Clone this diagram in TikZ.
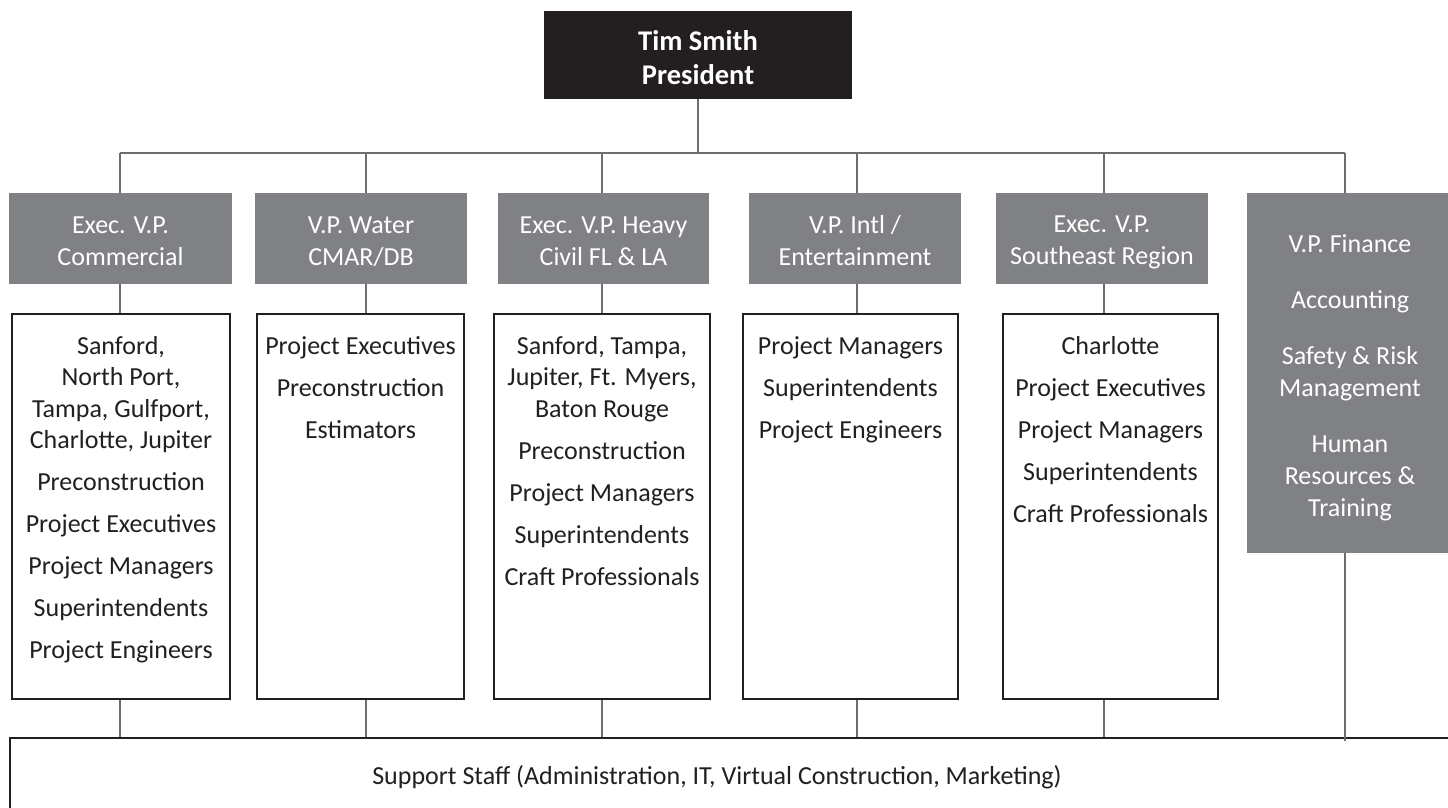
\documentclass[tikz,border=0pt]{standalone}
\usepackage{fontspec}
\setmainfont{Carlito}
\definecolor{hdrgray}{HTML}{808184}
\definecolor{ink}{HTML}{231F20}
\definecolor{linegray}{HTML}{6D6E71}
\newcommand\hdtop{\rule{0pt}{25pt}}
\newcommand\hdbot{\rule[-4pt]{0pt}{4pt}}
\newcommand\prtop{\rule{0pt}{25pt}}
\begin{document}
\begin{tikzpicture}[x=1pt,y=-1pt,
  pres/.style={fill=ink, text=white, inner sep=0pt, font=\bfseries\fontsize{28.5}{34}\selectfont, align=center},
  hdr/.style={fill=hdrgray, text=white, inner sep=0pt, font=\fontsize{26}{32}\selectfont, align=center},
  unitbox/.style={draw=ink, line width=2.2pt, fill=white, inner sep=0pt},
  unittext/.style={text=ink, inner sep=0pt, font=\fontsize{26}{31.5}\selectfont, align=center, anchor=north},
  link/.style={draw=linegray, line width=1.3pt},
]
\useasboundingbox (0,0) rectangle (1448,808);
\clip (0,0) rectangle (1448,808);

% president
\node[pres, minimum width=308pt, minimum height=88pt] (pres) at (698,55) {\prtop Tim Smith\\President};

% vertical line positions
\coordinate (v1) at (120,153);
\coordinate (v2) at (366,153);
\coordinate (v3) at (602,153);
\coordinate (v4) at (857,153);
\coordinate (v5) at (1104,153);
\coordinate (v6) at (1345,153);

% headers
\node[hdr, minimum width=223pt, minimum height=91pt] (h1) at (120.5,238.5) {\hdtop Exec. V.P.\\Commercial\hdbot};
\node[hdr, minimum width=212pt, minimum height=91pt] (h2) at (361,238.5) {\hdtop V.P. Water\\CMAR/DB\hdbot};
\node[hdr, minimum width=211pt, minimum height=91pt] (h3) at (603.5,238.5) {\hdtop Exec. V.P. Heavy\\Civil FL \& LA\hdbot};
\node[hdr, minimum width=212pt, minimum height=91pt] (h4) at (855,238.5) {\hdtop V.P. Intl /\\Entertainment\hdbot};
\node[hdr, minimum width=212pt, minimum height=91pt] (h5) at (1102,238.5) {\hdtop Exec. V.P.\\Southeast Region\hdbot};
\node[hdr, minimum width=205pt, minimum height=360pt] (fin) at (1349.5,373) {};
\node[hdr, fill=none, anchor=north] (fintext) at (1350,234) {V.P. Finance\\[24pt]Accounting\\[24pt]Safety \& Risk\\Management\\[24pt]Human\\Resources \&\\Training};

% unit boxes
\node[unitbox, minimum width=218pt, minimum height=385pt] (u1) at (121,506.5) {};
\node[unitbox, minimum width=207pt, minimum height=385pt] (u2) at (360.5,506.5) {};
\node[unitbox, minimum width=216pt, minimum height=385pt] (u3) at (602,506.5) {};
\node[unitbox, minimum width=215pt, minimum height=385pt] (u4) at (850.5,506.5) {};
\node[unitbox, minimum width=215pt, minimum height=385pt] (u5) at (1110.5,506.5) {};

\node[unittext] (t1) at (121,336) {Sanford,\\North Port,\\Tampa, Gulfport,\\Charlotte, Jupiter\\[10.5pt]Preconstruction\\[10.5pt]Project Executives\\[10.5pt]Project Managers\\[10.5pt]Superintendents\\[10.5pt]Project Engineers};
\node[unittext] (t2) at (360.5,336) {Project Executives\\[10.5pt]Preconstruction\\[10.5pt]Estimators};
\node[unittext] (t3) at (602,336) {Sanford, Tampa,\\Jupiter, Ft. Myers,\\Baton Rouge\\[10.5pt]Preconstruction\\[10.5pt]Project Managers\\[10.5pt]Superintendents\\[10.5pt]Craft Professionals};
\node[unittext] (t4) at (850.5,336) {Project Managers\\[10.5pt]Superintendents\\[10.5pt]Project Engineers};
\node[unittext] (t5) at (1110.5,336) {Charlotte\\[10.5pt]Project Executives\\[10.5pt]Project Managers\\[10.5pt]Superintendents\\[10.5pt]Craft Professionals};

% support staff
\node[unitbox, minimum width=1460pt, minimum height=100pt, anchor=north west] (staff) at (9,737) {};
\node[text=ink, inner sep=0pt, font=\fontsize{26}{31.5}\selectfont] (stafftext) at (717,777) {Support Staff (Administration, IT, Virtual Construction, Marketing)};

% connectors
\draw[link] (pres.south) -- (pres.south |- v1);
\draw[link] (v1) -- (v6);
\foreach \i in {1,...,5} {
  \draw[link] (v\i) -- (v\i |- h\i.north);
  \draw[link] (v\i |- h\i.south) -- (v\i |- u\i.north);
  \draw[link] (v\i |- u\i.south) -- (v\i |- staff.north);
}
\draw[link] (v6) -- (v6 |- fin.north);
\draw[link] (v6 |- fin.south) -- ([yshift=-4pt]v6 |- staff.north);
\end{tikzpicture}
\end{document}
